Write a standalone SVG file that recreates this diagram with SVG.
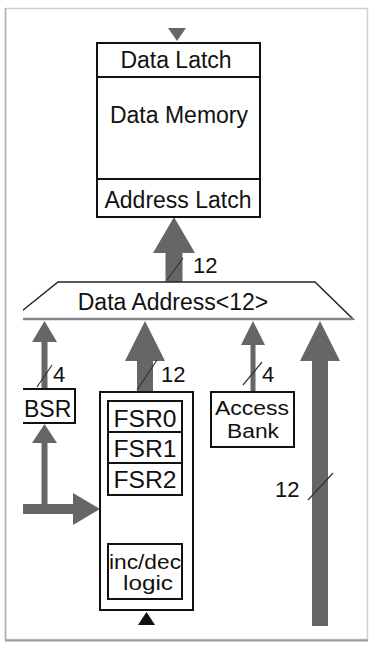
<svg xmlns="http://www.w3.org/2000/svg" width="370" height="645" viewBox="0 0 370 645">
<defs>
<style>
.t{font-family:"Liberation Sans",Arial,sans-serif;font-size:23px;fill:#111;}
.t2{font-family:"Liberation Sans",Arial,sans-serif;font-size:20px;fill:#111;}
.lbl{font-family:"Liberation Sans",Arial,sans-serif;font-size:22px;fill:#111;}
.box{fill:#fff;stroke:#111;stroke-width:2;}
.bus{fill:#666;stroke:none;}
.slash{stroke:#333;stroke-width:1.2;fill:none;}
</style>
<clipPath id="clipL"><rect x="23" y="0" width="347" height="645"/></clipPath>
</defs>
<rect x="0" y="0" width="370" height="645" fill="#fff"/>
<rect x="5.5" y="8.5" width="362" height="631" fill="#fff" stroke="#cfcfcf" stroke-width="1.5"/>
<line x1="5" y1="640.5" x2="368" y2="640.5" stroke="#9a9a9a" stroke-width="2"/>
<line x1="5.5" y1="8" x2="5.5" y2="640" stroke="#b0b0b0" stroke-width="1.5"/>

<g clip-path="url(#clipL)">
<g id="connectors">
  <polygon class="bus" points="168,28 186,28 177,41"/>
  <polygon class="bus" points="165.5,283 165.5,253 153,253 174,217 195,253 182.5,253 182.5,283"/>
  <line class="slash" x1="167" y1="280" x2="183" y2="258"/>
  <polygon class="bus" points="41.5,389 41.5,342 32,342 44.5,321 57,342 47.5,342 47.5,389"/>
  <line class="slash" x1="37" y1="387" x2="52" y2="365"/>
  <polygon class="bus" points="137,392 137,361 125,361 145,321 165,361 153,361 153,392"/>
  <line class="slash" x1="137" y1="390" x2="157" y2="360"/>
  <polygon class="bus" points="250.5,392 250.5,345 241,345 253,321 265,345 255.5,345 255.5,392"/>
  <line class="slash" x1="243" y1="385" x2="262" y2="362"/>
  <polygon class="bus" points="312,626 312,361 300,361 320,321 340,361 328,361 328,626"/>
  <line class="slash" x1="308" y1="500" x2="333" y2="473"/>
  <polygon class="bus" points="10,504 73,504 73,493 100,509 73,525 73,514 10,514"/>
  <polygon class="bus" points="41.5,509 41.5,443 32,443 44.5,424 57,443 47.5,443 47.5,509"/>
  <line x1="145" y1="506" x2="145" y2="535" stroke="#111" stroke-width="2"/>
  <polygon points="145,498 140.5,510 149.5,510" fill="#111"/>
  <polygon points="145,543 140.5,531 149.5,531" fill="#111"/>
  <polygon points="138,625 155,625 146.5,612" fill="#111"/>
</g>

<g id="data-memory">
  <rect class="box" x="97" y="43" width="163" height="174"/>
  <line x1="97" y1="77" x2="260" y2="77" stroke="#111" stroke-width="2"/>
  <line x1="97" y1="179" x2="260" y2="179" stroke="#111" stroke-width="2"/>
  <text class="t" x="176" y="68" text-anchor="middle">Data Latch</text>
  <text class="t" x="179" y="123" text-anchor="middle">Data Memory</text>
  <text class="t" x="178" y="208" text-anchor="middle">Address Latch</text>
</g>

<g id="data-address">
  <polygon points="58,282 315,282 353,319 12,319" fill="#fff" stroke="#222" stroke-width="1.5"/>
  <line x1="12" y1="319" x2="353" y2="319" stroke="#888" stroke-width="2.5"/>
  <text class="t" x="173" y="310" text-anchor="middle">Data Address&lt;12&gt;</text>
</g>

<g id="bsr">
  <rect class="box" x="10" y="389" width="65" height="34"/>
  <text class="t" x="24" y="417">BSR</text>
</g>

<g id="fsr">
  <rect class="box" x="100" y="392" width="93" height="218"/>
  <rect class="box" x="108" y="401" width="74" height="94"/>
  <line x1="108" y1="432" x2="182" y2="432" stroke="#111" stroke-width="2"/>
  <line x1="108" y1="463" x2="182" y2="463" stroke="#111" stroke-width="2"/>
  <text class="t" x="145" y="427" text-anchor="middle" textLength="63" lengthAdjust="spacingAndGlyphs">FSR0</text>
  <text class="t" x="145" y="457" text-anchor="middle" textLength="63" lengthAdjust="spacingAndGlyphs">FSR1</text>
  <text class="t" x="145" y="488" text-anchor="middle" textLength="63" lengthAdjust="spacingAndGlyphs">FSR2</text>
</g>

<g id="incdec">
  <rect class="box" x="108" y="544" width="74" height="55"/>
  <text class="t2" x="145" y="569" text-anchor="middle" textLength="72" lengthAdjust="spacingAndGlyphs">inc/dec</text>
  <text class="t2" x="148" y="590" text-anchor="middle" textLength="50" lengthAdjust="spacingAndGlyphs">logic</text>
</g>

<g id="access-bank">
  <rect class="box" x="211" y="392" width="83" height="55"/>
  <text class="t2" x="252" y="415" text-anchor="middle" textLength="74" lengthAdjust="spacingAndGlyphs">Access</text>
  <text class="t2" x="253" y="438" text-anchor="middle" textLength="52" lengthAdjust="spacingAndGlyphs">Bank</text>
</g>

<g id="labels">
  <text class="lbl" x="193" y="273">12</text>
  <text class="lbl" x="53" y="382">4</text>
  <text class="lbl" x="161" y="382">12</text>
  <text class="lbl" x="262" y="382">4</text>
  <text class="lbl" x="275" y="497">12</text>
</g>
</g>
</svg>
